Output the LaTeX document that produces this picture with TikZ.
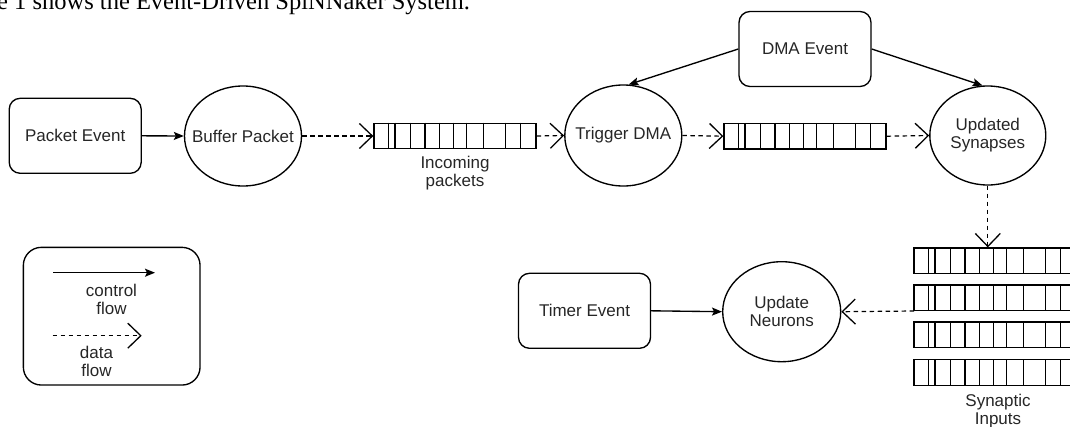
\documentclass[tikz,border=0pt]{standalone}
\usepackage{fontspec}
\setmainfont{Liberation Sans}
\newfontfamily\capfont{Liberation Serif}
\usetikzlibrary{shapes.geometric,arrows.meta}

\tikzset{
  lbl/.style={font=\fontsize{17}{18}\selectfont, text=black!85, align=center, inner sep=0pt},
  eventbox/.style={draw, line width=1.35pt, rounded corners=11pt, minimum width=132pt,
    minimum height=75pt, inner sep=0pt, lbl},
  taskell/.style={draw, line width=1.35pt, ellipse, inner sep=0pt},
  qbox/.style={draw, line width=1.35pt, minimum width=162pt, minimum height=25.5pt, inner sep=0pt},
  qline/.style={line width=1.2pt},
  ctrl/.style={line width=1.35pt, -{Stealth[length=10pt,width=8pt,inset=2pt]}},
  dataf/.style={line width=1.2pt, dash pattern=on 4.5pt off 3.5pt,
    -{Straight Barb[length=13pt,width=25pt,line width=1.3pt]}},
}

% a packet/input buffer: an outlined strip split into slots
\newcommand\slotqueue[3]{%
  \node[qbox] (#1) at (#2,#3) {};
  \foreach \o in {15,21.7,37,51.7,66,80.5,93.5,110.5,132.2,146.8}
    \draw[qline] ([xshift=\o pt]#1.north west) -- ([xshift=\o pt]#1.south west);
}

\begin{document}
\begin{tikzpicture}[x=1pt,y=-1pt]
\useasboundingbox (0,0) rectangle (1070,426);

% caption line of the surrounding text
\node[anchor=base west, inner sep=0pt, font=\capfont\fontsize{24.5}{26}\selectfont]
  (caption) at (-3,9.5) {e 1 shows the Event-Driven SpiNNaker System.};

% events and tasks
\node[eventbox] (pe) at (75.2,135.8) {Packet Event};
\node[taskell, minimum width=117pt, minimum height=100pt,
  label={[lbl]center:Buffer Packet}] (bp) at (243,136) {};
\node[taskell, minimum width=117pt, minimum height=101pt,
  label={[lbl]center:Trigger DMA}] (trig) at (623.3,135.5) {};
\node[taskell, minimum width=116pt, minimum height=99pt,
  label={[lbl]center:Updated\\Synapses}] (upd) at (987.8,135.5) {};
\node[eventbox] (dma) at (805,49) {DMA Event};
\node[eventbox] (timer) at (584.5,310.8) {Timer Event};
\node[taskell, minimum width=118pt, minimum height=100pt,
  label={[lbl]center:Update\\Neurons}] (un) at (781.7,311.7) {};

% buffers
\slotqueue{q1}{455}{136}
\slotqueue{q2}{805}{136.2}
\slotqueue{s1}{995}{260.8}
\slotqueue{s2}{995}{297.7}
\slotqueue{s3}{995}{334.8}
\slotqueue{s4}{995}{372.5}

\node[lbl] (inlbl) at (455,173.5) {Incoming\\packets};
\node[lbl] (synlbl) at (998,411) {Synaptic\\Inputs};

% control flow
\draw[ctrl] (pe.east) -- (bp.west);
\draw[ctrl] (dma.west) -- (trig.84);
\draw[ctrl] (dma.east) -- (upd.96);
\draw[ctrl] (timer.east) -- (un.west);

% data flow
\draw[dataf] (bp.east) -- (q1.west);
\draw[dataf] (q1.east) -- (trig.west);
\draw[dataf] (trig.east) -- (q2.west);
\draw[dataf] (q2.east) -- (upd.west);
\draw[dataf] (upd.south) -- (upd.south |- s1.north);
\coordinate (synout) at (914,311);
\draw[dataf] (synout) -- (un.east);

% legend
\node[draw, line width=1.35pt, rounded corners=18pt, minimum width=176.7pt,
  minimum height=137.7pt, inner sep=0pt] (legend) at (111.7,316.2) {};
\coordinate (c0) at (53.3,272.7);
\coordinate (c1) at (155,272.7);
\draw[ctrl] (c0) -- (c1);
\node[lbl] (ctrllbl) at (111.5,299) {control\\flow};
\coordinate (d0) at (52.7,335.7);
\coordinate (d1) at (141.7,335.7);
\draw[dataf] (d0) -- (d1);
\node[lbl] (datalbl) at (96.5,361) {data\\flow};
\end{tikzpicture}
\end{document}
